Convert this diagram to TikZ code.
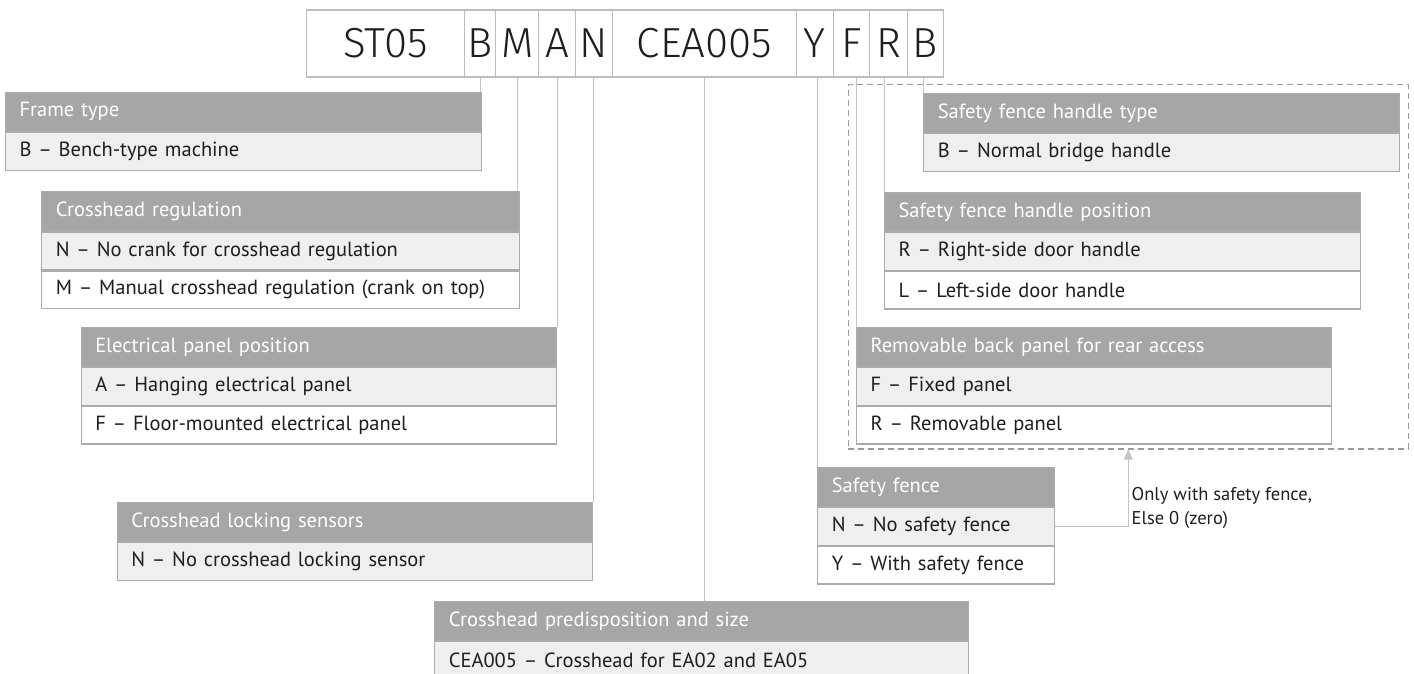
\documentclass[tikz,border=0pt]{standalone}
\usepackage{fontspec}
\setmainfont{PT Sans}
\newfontfamily\codefont{Fira Sans Light}
\usetikzlibrary{arrows.meta,calc}
\definecolor{hdrc}{HTML}{A6A6A6}
\definecolor{rowc}{HTML}{EFEFEF}
\definecolor{bordc}{HTML}{ABABAB}
\definecolor{connc}{HTML}{C4C4C4}
\definecolor{codec}{HTML}{BDBDBD}
\definecolor{txtc}{HTML}{1E1E1E}
\definecolor{dashc}{HTML}{9A9A9A}
\begin{document}
\begin{tikzpicture}[x=1pt,y=-1pt,
  cell/.style={draw=bordc, line width=1.1pt, anchor=north west, inner xsep=14pt, inner ysep=0pt,
    align=left, font=\fontsize{20.5}{24}\selectfont, text=txtc},
  hdr/.style={cell, fill=hdrc, text=white, minimum height=39.3pt},
  rowa/.style={cell, fill=rowc, minimum height=37.6pt},
  rowb/.style={cell, fill=white, minimum height=37.6pt},
  code/.style={draw=codec, line width=1.1pt, minimum height=67pt, inner sep=0pt,
    font=\codefont\fontsize{42}{46}\selectfont, text=txtc, anchor=north west},
  conn/.style={draw=connc, line width=1pt},
  dashbox/.style={draw=dashc, line width=1.2pt, dash pattern=on 6pt off 4pt, anchor=north west, inner sep=0pt},
  note/.style={font=\fontsize{18.5}{24}\selectfont, text=txtc, align=left, anchor=north west, inner sep=0pt}
]
\useasboundingbox (0,0) rectangle (1414,674);
\clip (0,0) rectangle (1414,674);

% code boxes
\node[code, minimum width=158.6pt] (cST) at (305.7,9.5) {ST05};
\node[code, minimum width=30.7pt] (cB) at (464.3,9.5) {B};
\node[code, minimum width=43.3pt] (cM) at (495,9.5) {M};
\node[code, minimum width=36.7pt] (cA) at (538.3,9.5) {A};
\node[code, minimum width=36.7pt] (cN) at (575,9.5) {N};
\node[code, minimum width=184.3pt] (cC) at (611.7,9.5) {CEA005};
\node[code, minimum width=36.7pt] (cY) at (796,9.5) {Y};
\node[code, minimum width=36.6pt] (cF) at (832.7,9.5) {F};
\node[code, minimum width=37.4pt] (cR) at (869.3,9.5) {R};
\node[code, minimum width=36pt] (cB2) at (906.7,9.5) {B};

% dashed group box
\node[dashbox, minimum width=560pt, minimum height=364.3pt] (fence) at (847.7,84) {};

% tables (left)
\node[hdr, text width=448pt] (frH) at (5,91.7) {Frame type};
\node[rowa, text width=448pt] (fr1) at (frH.south west) {B -- Bench-type machine};

\node[hdr, text width=450pt] (rgH) at (41.3,191.3) {Crosshead regulation};
\node[rowa, text width=450pt] (rg1) at (rgH.south west) {N -- No crank for crosshead regulation};
\node[rowb, text width=450pt] (rg2) at (rg1.south west) {M -- Manual crosshead regulation (crank on top)};

\node[hdr, text width=447.3pt] (elH) at (80.7,326.7) {Electrical panel position};
\node[rowa, text width=447.3pt] (el1) at (elH.south west) {A -- Hanging electrical panel};
\node[rowb, text width=447.3pt] (el2) at (el1.south west) {F -- Floor-mounted electrical panel};

\node[hdr, text width=447.6pt] (lkH) at (116.7,501.7) {Crosshead locking sensors};
\node[rowa, text width=447.6pt] (lk1) at (lkH.south west) {N -- No crosshead locking sensor};

\node[hdr, text width=505.7pt] (pdH) at (434.3,600.7) {Crosshead predisposition and size};
\node[rowa, text width=505.7pt] (pd1) at (pdH.south west) {CEA005 -- Crosshead for EA02 and EA05};

% tables (right)
\node[hdr, text width=209pt] (sfH) at (817.3,466.7) {Safety fence};
\node[rowa, text width=209pt] (sf1) at (sfH.south west) {N -- No safety fence};
\node[rowb, text width=209pt] (sf2) at (sf1.south west) {Y -- With safety fence};

\node[hdr, text width=447.3pt] (htH) at (923.3,92.7) {Safety fence handle type};
\node[rowa, text width=447.3pt] (ht1) at (htH.south west) {B -- Normal bridge handle};

\node[hdr, text width=447.5pt] (hpH) at (884,191.7) {Safety fence handle position};
\node[rowa, text width=447.5pt] (hp1) at (hpH.south west) {R -- Right-side door handle};
\node[rowb, text width=447.5pt] (hp2) at (hp1.south west) {L -- Left-side door handle};

\node[hdr, text width=447pt] (rmH) at (856,326.7) {Removable back panel for rear access};
\node[rowa, text width=447pt] (rm1) at (rmH.south west) {F -- Fixed panel};
\node[rowb, text width=447pt] (rm2) at (rm1.south west) {R -- Removable panel};

% connectors
\draw[conn] (cB.south) -- (cB.south |- frH.north);
\draw[conn] (cM.south) -- (cM.south |- rgH.north);
\draw[conn] (cA.south) -- (cA.south |- elH.north);
\draw[conn] (cN.south) -- (cN.south |- lkH.north);
\draw[conn] (cC.south) -- (cC.south |- pdH.north);
\draw[conn] (sfH.north west) -- (sfH.north west |- cY.south);
\draw[conn] (rmH.north west) -- (rmH.north west |- cF.south);
\draw[conn] (hpH.north west) -- (hpH.north west |- cR.south);
\draw[conn] (htH.north west) -- (htH.north west |- cB2.south);

% arrow to dashed box
\coordinate (arrtip) at (fence.south -| 1128.3,0);
\draw[conn, -{Triangle[length=10pt,width=9pt]}, shorten >=0pt] (sf1.east) -| (arrtip);
\node[note] (lbl) at (1131.5,487) {Only with safety fence,\\Else 0 (zero)};
\end{tikzpicture}
\end{document}
